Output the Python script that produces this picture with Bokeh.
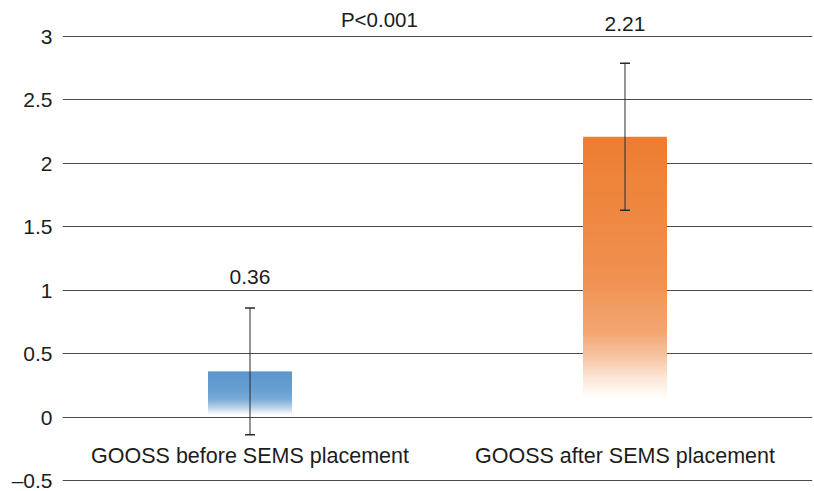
import numpy as np
from bokeh.plotting import figure
from bokeh.models import ColumnDataSource, FixedTicker, Whisker, TeeHead, Label, Range1d
from bokeh.core.properties import value
from bokeh.embed import file_html
from bokeh.resources import INLINE

# ---- data ----
categories = ["GOOSS before SEMS placement", "GOOSS after SEMS placement"]
means = [0.36, 2.21]
errors = [0.50, 0.58]
value_labels = ["0.36", "2.21"]
p_text = "P<0.001"
y_ticks = [-0.5, 0, 0.5, 1, 1.5, 2, 2.5, 3]
y_tick_labels = ["\u20130.5", "0", "0.5", "1", "1.5", "2", "2.5", "3"]

# ---- style ----
FONT = "Liberation Sans"
TXT = "#1c1c1c"
bar_colors = ["#5B96CD", "#ED7D31"]
# (fraction from top of bar, amount of white mixed in)
grad_stops = [
    [(0, 0), (0.45, 0.10), (0.62, 0.22), (0.8, 0.6), (0.95, 1.0), (1, 1.0)],
    [(0, 0), (0.5, 0.15), (0.7, 0.32), (0.78, 0.55), (0.86, 0.82), (0.93, 1.0), (1, 1.0)],
]
label_px_offsets = [-31, -39]
bar_width = 0.223
xpos = [0.5 + i for i in range(len(categories))]

p = figure(width=814, height=491, output_backend="svg", toolbar_location=None,
           x_range=Range1d(0, 2), y_range=Range1d(-0.5236, 3.284),
           min_border_left=62, min_border_right=2, min_border_top=0, min_border_bottom=8)
p.outline_line_color = None
p.xaxis.visible = False
p.xgrid.visible = False

ticker = FixedTicker(ticks=y_ticks)
p.yaxis.ticker = ticker
p.yaxis.major_label_overrides = {t: l for t, l in zip(y_ticks, y_tick_labels)}
p.yaxis.axis_line_color = None
p.yaxis.major_tick_line_color = None
p.yaxis.minor_tick_line_color = None
p.yaxis.major_tick_out = 0
p.yaxis.major_label_standoff = 10
p.yaxis.major_label_text_font = FONT
p.yaxis.major_label_text_font_size = "21px"
p.yaxis.major_label_text_color = TXT
p.ygrid.ticker = ticker
p.ygrid.grid_line_color = "#4a4a4a"
p.ygrid.grid_line_width = 1


def hex2rgb(h):
    h = h.lstrip("#")
    return np.array([int(h[i:i + 2], 16) for i in (0, 2, 4)], dtype=float)


def rgb2hex(c):
    c = np.clip(np.round(c), 0, 255).astype(int)
    return "#%02x%02x%02x" % tuple(c)


# gradient bars: nested quads from the bar top down to 0, drawn tallest first
N = 140
for i, (x, m) in enumerate(zip(xpos, means)):
    base = hex2rgb(bar_colors[i])
    fr = np.array([s[0] for s in grad_stops[i]])
    wm = np.array([s[1] for s in grad_stops[i]])
    tops_frac = np.linspace(0, 1, N, endpoint=False)  # fraction from top
    tops = m * (1 - tops_frac)
    mix = np.interp(tops_frac, fr, wm)
    cols = [rgb2hex(base * (1 - a) + 255 * a) for a in mix]
    src = ColumnDataSource(dict(left=[x - bar_width / 2] * N, right=[x + bar_width / 2] * N,
                                top=tops, bottom=[0] * N, color=cols))
    p.quad(left="left", right="right", top="top", bottom="bottom", fill_color="color",
           line_color=None, source=src)

# error bars
esrc = ColumnDataSource(dict(x=xpos, upper=[m + e for m, e in zip(means, errors)],
                             lower=[m - e for m, e in zip(means, errors)]))
wh = Whisker(base="x", upper="upper", lower="lower", source=esrc, dimension="height",
             line_color="#2a2a2a", line_width=1,
             upper_head=TeeHead(size=10, line_color="#2a2a2a", line_width=1.5),
             lower_head=TeeHead(size=10, line_color="#2a2a2a", line_width=1.5),
             level="glyph")
p.add_layout(wh)

# value labels
for x, m, e, lab, off in zip(xpos, means, errors, value_labels, label_px_offsets):
    p.add_layout(Label(x=x, y=m + e, text=lab, y_offset=-off, text_align="center",
                       text_baseline="alphabetic", text_font=FONT,
                       text_font_size="21px", text_color=TXT))

# category labels
p.text(x=xpos, y=[-0.303] * len(xpos), text=categories, text_align="center",
       text_baseline="alphabetic", text_font=value(FONT), text_font_size="21.5px",
       text_color=TXT)

# p-value
p.add_layout(Label(x=0.845, y=3.133, text=p_text, text_align="center",
                   text_baseline="alphabetic", text_font=FONT,
                   text_font_size="20.5px", text_color=TXT))

open("out.html", "w").write(file_html(p, INLINE))
